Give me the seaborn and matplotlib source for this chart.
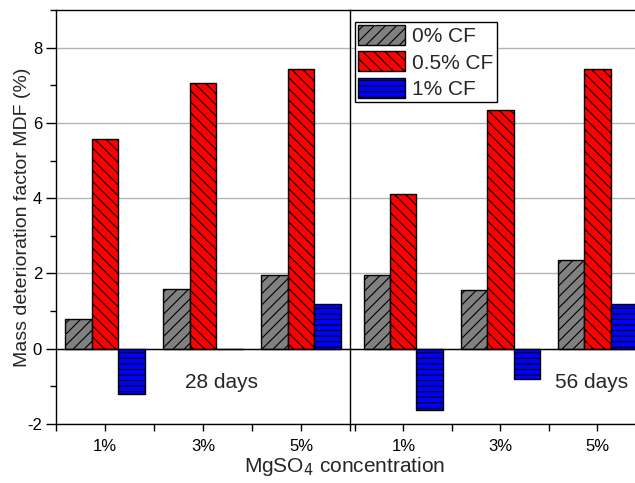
import pandas as pd
import seaborn as sns
import matplotlib.pyplot as plt
from matplotlib.patches import Patch
from matplotlib.ticker import MultipleLocator, FixedLocator

sns.set_style("ticks")
plt.rcParams['font.family'] = ['Liberation Sans', 'DejaVu Sans']
plt.rcParams['hatch.linewidth'] = 0.8
plt.rcParams['axes.unicode_minus'] = False

concentrations = ["1%", "3%", "5%"]
fibre_levels = ["0% CF", "0.5% CF", "1% CF"]

# mass deterioration factor (%)
mdf_28_days = {
    "0% CF": [0.80, 1.58, 1.97],
    "0.5% CF": [5.57, 7.06, 7.43],
    "1% CF": [-1.20, 0.0, 1.20],
}
mdf_56_days = {
    "0% CF": [1.97, 1.57, 2.37],
    "0.5% CF": [4.10, 6.33, 7.44],
    "1% CF": [-1.62, -0.81, 1.20],
}

colors = ["#808080", "#FF0000", "#0000FF"]
hatches = ["///", "\\\\\\", "---"]


def to_long(values):
    rows = []
    for cf in fibre_levels:
        for conc, v in zip(concentrations, values[cf]):
            rows.append({"conc": conc, "cf": cf, "mdf": v})
    return pd.DataFrame(rows)


def draw_panel(ax, values, label, label_x):
    df = to_long(values)
    sns.barplot(data=df, x="conc", y="mdf", hue="cf", order=concentrations,
                hue_order=fibre_levels, palette=colors, saturation=1,
                width=0.81, edgecolor="black", linewidth=1.0, errorbar=None,
                legend=False, ax=ax, zorder=3)
    for container, h in zip(ax.containers, hatches):
        for bar in container.patches:
            bar.set_hatch(h)
    ax.set_ylim(-2, 9)
    ax.axhline(0, color="black", lw=1.0, zorder=4)
    ax.yaxis.set_major_locator(FixedLocator([-2, 0, 2, 4, 6, 8]))
    ax.yaxis.set_minor_locator(MultipleLocator(1))
    ax.xaxis.set_minor_locator(FixedLocator([-0.5, 0.5, 1.5, 2.5]))
    ax.grid(axis="y", color="#b4b4b4", lw=1.0, zorder=0)
    ax.set_axisbelow(True)
    ax.tick_params(axis="x", which="both", direction="out", length=5,
                   width=1, labelsize=12, pad=6, colors="black")
    ax.set_xlabel("")
    ax.set_ylabel("")
    ax.text(label_x, -0.9, label, fontsize=15, ha="center", va="center")
    for s in ax.spines.values():
        s.set_color("black")
        s.set_linewidth(1.0)


W, H = 635, 483
fig = plt.figure(figsize=(W / 100, H / 100), dpi=100)
top, bottom = 10, 424
ax1 = fig.add_axes([56 / W, (H - bottom) / H, 294 / W, (bottom - top) / H])
ax2 = fig.add_axes([350 / W, (H - bottom) / H, 296 / W, (bottom - top) / H])

draw_panel(ax1, mdf_28_days, "28 days", 1.19)
draw_panel(ax2, mdf_56_days, "56 days", 1.94)

ax1.set_xlim(-0.5, 2.5)
ax2.set_xlim(-0.55, 2.5)

ax1.tick_params(axis="y", which="major", direction="out", length=7,
                width=1, labelsize=12, pad=3, colors="black")
ax1.tick_params(axis="y", which="minor", direction="out", length=4,
                width=1, colors="black")
ax1.set_ylabel("Mass deterioration factor MDF (%)", fontsize=14)
ax1.yaxis.set_label_coords(-0.085, 0.5)
ax1.spines["right"].set_visible(False)

ax2.tick_params(axis="y", which="both", left=False, labelleft=False)

handles = [Patch(facecolor=c, edgecolor="black", hatch=h, label=l)
           for c, h, l in zip(colors, hatches, fibre_levels)]
leg = ax2.legend(handles=handles, loc="upper left",
                 bbox_to_anchor=(5 / 296, 1 - 12 / 414), fontsize=15,
                 frameon=True, fancybox=False, edgecolor="black",
                 framealpha=1, handlelength=2.25, handleheight=1.1,
                 labelspacing=0.25, handletextpad=0.35, borderpad=0.15,
                 borderaxespad=0)
leg.get_frame().set_linewidth(1.0)

fig.text(345 / W, 1 - 466 / H, "MgSO$_4$ concentration", fontsize=15,
         ha="center", va="center")

fig.savefig("out.png", dpi=100)
